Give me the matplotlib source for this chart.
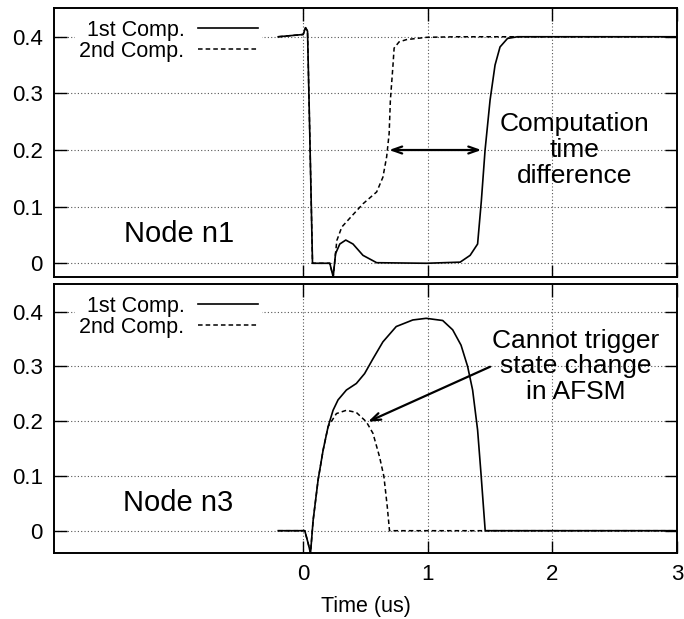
import matplotlib
matplotlib.use("Agg")
import matplotlib.pyplot as plt

plt.rcParams['font.family'] = ['Liberation Sans', 'DejaVu Sans']

# Node n1, 1st and 2nd computation (time in us, value)
n1_first_t = [-0.2, 0.0, 0.019, 0.035, 0.053, 0.075, 0.214, 0.241, 0.26, 0.294, 0.342,
              0.4, 0.48, 0.59, 0.99, 1.26, 1.34, 1.4, 1.43, 1.46, 1.5, 1.54, 1.58, 1.64, 1.72, 3.0]
n1_first_v = [0.4, 0.404, 0.416, 0.41, 0.229, 0.0, 0.0, -0.024, 0.017, 0.034, 0.041,
              0.034, 0.014, 0.001, 0.0, 0.002, 0.014, 0.034, 0.11, 0.2, 0.288, 0.35, 0.382, 0.397, 0.4, 0.4]
n1_second_t = [-0.2, 0.0, 0.019, 0.035, 0.053, 0.075, 0.214, 0.241, 0.27, 0.31, 0.38,
               0.48, 0.59, 0.64, 0.67, 0.69, 0.70, 0.72, 0.73, 0.77, 0.83, 0.99, 1.23, 3.0]
n1_second_v = [0.4, 0.404, 0.416, 0.41, 0.229, 0.0, 0.0, -0.024, 0.04, 0.064, 0.081,
               0.105, 0.126, 0.152, 0.188, 0.229, 0.288, 0.347, 0.38, 0.391, 0.395, 0.399, 0.4, 0.4]

# Node n3
n3_first_t = [-0.2, 0.013, 0.04, 0.059, 0.08, 0.12, 0.16, 0.2, 0.24, 0.28, 0.347, 0.427,
              0.493, 0.56, 0.64, 0.747, 0.88, 0.987, 1.12, 1.2, 1.267, 1.32, 1.36, 1.4,
              1.427, 1.461, 3.0]
n3_first_v = [0.0, 0.0, -0.023, -0.041, 0.019, 0.093, 0.147, 0.19, 0.22, 0.239, 0.257, 0.269,
              0.287, 0.314, 0.345, 0.373, 0.385, 0.388, 0.384, 0.367, 0.339, 0.3, 0.257, 0.184,
              0.105, 0.0, 0.0]
n3_second_t = [-0.2, 0.013, 0.04, 0.059, 0.08, 0.12, 0.16, 0.2, 0.267, 0.347, 0.427, 0.507,
               0.56, 0.613, 0.648, 0.675, 0.693, 3.0]
n3_second_v = [0.0, 0.0, -0.023, -0.041, 0.019, 0.093, 0.147, 0.19, 0.214, 0.22, 0.216, 0.199,
               0.178, 0.135, 0.099, 0.044, 0.0, 0.0]

legend_labels = ['1st Comp.', '2nd Comp.']
x_ticks = [0, 1, 2, 3]
y_ticks = [0, 0.1, 0.2, 0.3, 0.4]
y_tick_labels = ['0', '0.1', '0.2', '0.3', '0.4']

fig = plt.figure(figsize=(6.84, 6.19), dpi=100)
ax1 = fig.add_axes([0.0789, 0.553, 0.9108, 0.434])
ax2 = fig.add_axes([0.0789, 0.1071, 0.9108, 0.434])


def style(ax, ylim, bottom_labels):
    ax.set_xlim(-2, 3)
    ax.set_ylim(*ylim)
    ax.set_xticks(x_ticks)
    ax.set_yticks(y_ticks)
    ax.set_yticklabels(y_tick_labels)
    if not bottom_labels:
        ax.set_xticklabels([])
    ax.tick_params(direction='in', length=9, width=1, top=True, right=True,
                   labelsize=16, pad=8)
    ax.grid(True, color='#555555', linestyle=(0, (1, 2)), linewidth=0.8)
    ax.set_axisbelow(True)
    for s in ax.spines.values():
        s.set_linewidth(1.4)


def draw(ax, t1, v1, t2, v2):
    ax.plot(t1, v1, color='black', lw=1.2, label=legend_labels[0])
    ax.plot(t2, v2, color='black', lw=1.1, dashes=(3, 2), label=legend_labels[1])
    leg = ax.legend(loc='upper left', markerfirst=False, fontsize=15.5,
                    handlelength=2.75, handletextpad=0.65, labelspacing=0.0,
                    borderpad=0.2, bbox_to_anchor=(0.0165, 1.012),
                    frameon=True, fancybox=False, framealpha=1)
    leg.get_frame().set_edgecolor('none')
    leg.get_frame().set_facecolor('white')
    for txt in leg.get_texts():
        txt.set_ha('right')


draw(ax1, n1_first_t, n1_first_v, n1_second_t, n1_second_v)
style(ax1, (-0.0237, 0.4507), False)
ax1.text(-1.0, 0.052, 'Node n1', fontsize=21, ha='center', va='center')
ax1.text(2.18, 0.2, 'Computation\ntime\ndifference', fontsize=19,
         ha='center', va='center', linespacing=1.08)
ax1.annotate('', xy=(0.69, 0.2), xytext=(1.43, 0.2),
             arrowprops=dict(arrowstyle='<->,head_length=0.7,head_width=0.25',
                             color='black', lw=1.6, shrinkA=0, shrinkB=0))

draw(ax2, n3_first_t, n3_first_v, n3_second_t, n3_second_v)
style(ax2, (-0.0402, 0.4506), True)
ax2.text(-1.0, 0.05, 'Node n3', fontsize=21, ha='center', va='center')
ax2.text(2.19, 0.30, 'Cannot trigger\nstate change\nin AFSM', fontsize=19,
         ha='center', va='center', linespacing=1.08)
ax2.annotate('', xy=(0.52, 0.199), xytext=(1.5, 0.2995),
             arrowprops=dict(arrowstyle='->,head_length=0.7,head_width=0.25',
                             color='black', lw=1.6, shrinkA=0, shrinkB=0))
ax2.set_xlabel('Time (us)', fontsize=15.5, labelpad=8)

fig.savefig('out.png', dpi=100)
